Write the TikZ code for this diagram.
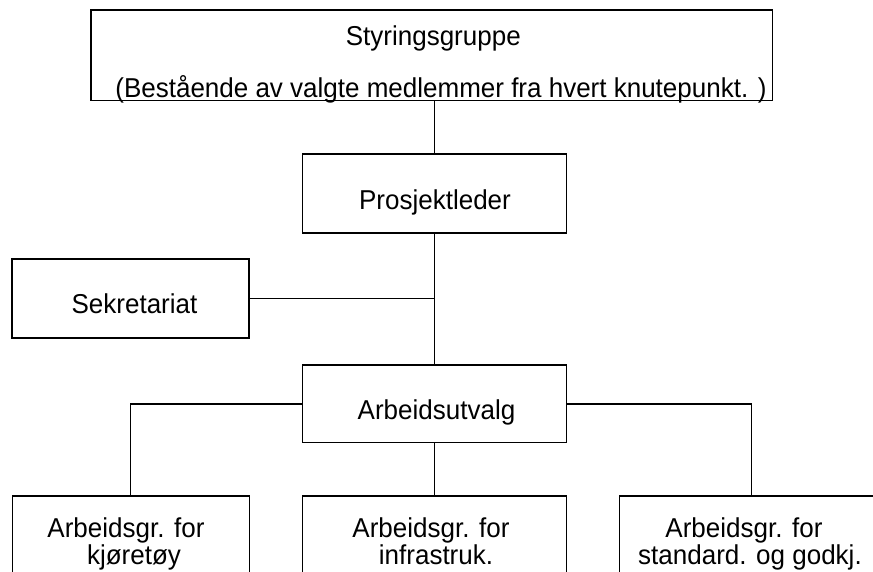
\documentclass[tikz,border=0pt]{standalone}
\usepackage{graphicx}
\usepackage{fontspec}
\setmainfont{Liberation Sans}
% labels are set slightly taller than the plain font
\newcommand{\tallword}[1]{\scalebox{1}[1.05]{#1}}
\begin{document}
\begin{tikzpicture}[x=1pt,y=-1pt,
  box/.style={draw=black, line width=1.3pt, rectangle, inner sep=0pt, fill=none},
  txt/.style={anchor=base, inner sep=0pt, text height=19pt, text depth=5pt,
              font=\fontsize{26}{26}\selectfont},
  link/.style={draw=black, line width=1.3pt}]
  \clip (0,0) rectangle (873,571);
  \fill[white] (0,0) rectangle (873,571);

  % boxes
  \node[box, minimum width=681.3pt, minimum height=90.7pt] (sg) at (431.7,55.35) {};
  \node[box, minimum width=264pt, minimum height=79pt] (pl) at (434.7,193.5) {};
  \node[box, minimum width=237pt, minimum height=79pt] (sek) at (130.5,298.5) {};
  \node[box, minimum width=264pt, minimum height=77.7pt] (au) at (434.7,403.85) {};
  \node[box, minimum width=237pt, minimum height=124pt] (ag1) at (130.8,558) {};
  \node[box, minimum width=264pt, minimum height=124pt] (ag2) at (434.7,558) {};
  \node[box, minimum width=264pt, minimum height=124pt] (ag3) at (751.5,558) {};

  % texts
  \node[txt] (sgt1) at (433.3,45) {\tallword{Styringsgruppe}};
  \node[txt] (sgt2) at (441,97) {\tallword{(Bestående av valgte medlemmer fra hvert knutepunkt. )}};
  \node[txt] (plt) at (435,209) {\tallword{Prosjektleder}};
  \node[txt] (sekt) at (134.5,313.3) {\tallword{Sekretariat}};
  \node[txt] (aut) at (436.5,419.3) {\tallword{Arbeidsutvalg}};
  \node[txt] (ag1a) at (126,537) {\tallword{Arbeidsgr. for}};
  \node[txt] (ag1b) at (134,564) {\tallword{kjøretøy}};
  \node[txt] (ag2a) at (431,537) {\tallword{Arbeidsgr. for}};
  \node[txt] (ag2b) at (436,564) {\tallword{infrastruk.}};
  \node[txt] (ag3a) at (744,537) {\tallword{Arbeidsgr. for}};
  \node[txt] (ag3b) at (750,564) {\tallword{standard. og godkj.}};

  % connectors
  \draw[link] (pl.north |- sg.south) -- (pl.north);
  \draw[link] (pl.south) -- (au.north);
  \draw[link] (sek.east) -- (sek.east -| pl.south);
  \draw[link] (au.west) -- (au.west -| ag1.north) -- (ag1.north);
  \draw[link] (au.south) -- (ag2.north);
  \draw[link] (au.east) -- (au.east -| ag3.north) -- (ag3.north);
\end{tikzpicture}
\end{document}
